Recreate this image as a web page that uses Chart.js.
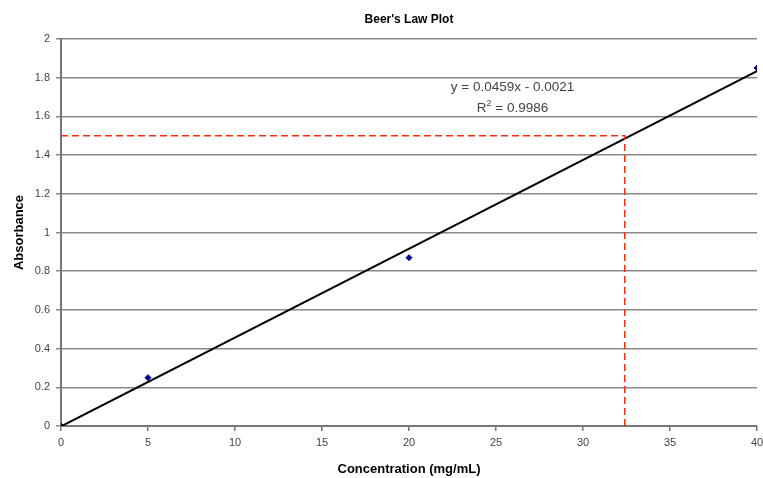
<html>
<head>
<meta charset="utf-8">
<title>Beer's Law Plot</title>
<script src="https://cdn.jsdelivr.net/npm/chart.js@4.4.0/dist/chart.umd.min.js"></script>
<style>
  body { margin: 0; background: #fff; }
</style>
</head>
<body>
<canvas id="beerChart" width="763" height="478"></canvas>
<script>
// data
var conc = [0, 5, 20, 40];
var absorb = [0, 0.25, 0.87, 1.85];
// linear trendline end points (y = 0.0459x - 0.0021)
var trendX = [0, 40];
var trendY = [-0.0021, 1.8339];
// read-off lines for absorbance 1.5
var readX = 32.4;
var readY = 1.5;
var eqText = "y = 0.0459x - 0.0021";
var r2Text = " = 0.9986";

function pts(xs, ys) {
  return xs.map(function (x, i) { return { x: x, y: ys[i] }; });
}

var labelFont = "'Liberation Sans', Arial, sans-serif";

var annotate = {
  id: 'annotate',
  afterDraw: function (chart) {
    var c = chart.ctx, xs = chart.scales.x, ys = chart.scales.y;
    c.save();
    c.fillStyle = '#000';
    c.font = 'bold 12px ' + labelFont;
    c.textAlign = 'center';
    c.textBaseline = 'middle';
    c.fillText("Beer's Law Plot", 409, 20);

    c.fillStyle = '#444';
    c.font = '13.5px ' + labelFont;
    var cx = xs.getPixelForValue(25.95);
    c.fillText(eqText, cx, ys.getPixelForValue(1.752));
    // R squared with a raised 2
    var y2 = ys.getPixelForValue(1.643);
    var wR = c.measureText('R').width, wRest = c.measureText(r2Text).width;
    c.font = '9px ' + labelFont;
    var wSup = c.measureText('2').width;
    var x0 = cx - (wR + wSup + wRest) / 2;
    c.textAlign = 'left';
    c.fillText('2', x0 + wR, y2 - 5);
    c.font = '13.5px ' + labelFont;
    c.fillText('R', x0, y2);
    c.fillText(r2Text, x0 + wR + wSup, y2);
    c.restore();
  }
};

var ctx = document.getElementById("beerChart").getContext("2d");
var beerChart = new Chart(ctx, {
  type: 'scatter',
  data: {
    datasets: [{
      label: 'Read-off',
      data: [{ x: 0, y: readY }, { x: readX, y: readY }, { x: readX, y: 0 }],
      showLine: true,
      borderColor: '#ff2a0a',
      borderWidth: 1.5,
      borderDash: [7, 4],
      pointRadius: 0,
      fill: false
    }, {
      label: 'Trendline',
      data: pts(trendX, trendY),
      showLine: true,
      borderColor: '#000',
      borderWidth: 2,
      pointRadius: 0,
      fill: false
    }, {
      label: 'Absorbance',
      data: pts(conc, absorb),
      pointStyle: 'rectRot',
      pointRadius: 3,
      backgroundColor: '#000099',
      borderColor: '#000099',
      showLine: false
    }]
  },
  options: {
    responsive: false,
    animation: false,
    layout: { padding: { top: 39, right: 0, left: 0, bottom: 0 } },
    plugins: {
      legend: { display: false },
      tooltip: { enabled: false }
    },
    scales: {
      x: {
        type: 'linear',
        min: 0, max: 40,
        afterFit: function (s) { s.height = 52; s.paddingRight = 6; },
        ticks: { stepSize: 5, color: '#444', font: { family: labelFont, size: 11 }, padding: 5, maxRotation: 0 },
        grid: { drawOnChartArea: false, drawTicks: true, tickLength: 5, color: '#777', lineWidth: 1.5 },
        border: { color: '#777', width: 2 },
        title: { display: true, text: 'Concentration (mg/mL)', color: '#000', font: { family: labelFont, size: 13, weight: 'bold' }, padding: { top: 4, bottom: 1 } }
      },
      y: {
        type: 'linear',
        min: 0, max: 2,
        afterFit: function (s) { s.width = 61; },
        ticks: {
          stepSize: 0.2, color: '#444', font: { family: labelFont, size: 11 }, padding: 6,
          callback: function (v) { return String(Math.round(v * 10) / 10); }
        },
        grid: { color: '#888', lineWidth: 1.5, tickLength: 5 },
        border: { color: '#777', width: 2 },
        title: { display: true, text: 'Absorbance', color: '#000', font: { family: labelFont, size: 13, weight: 'bold' }, padding: { top: 12, bottom: 4 } }
      }
    }
  },
  plugins: [annotate]
});
</script>
</body>
</html>
